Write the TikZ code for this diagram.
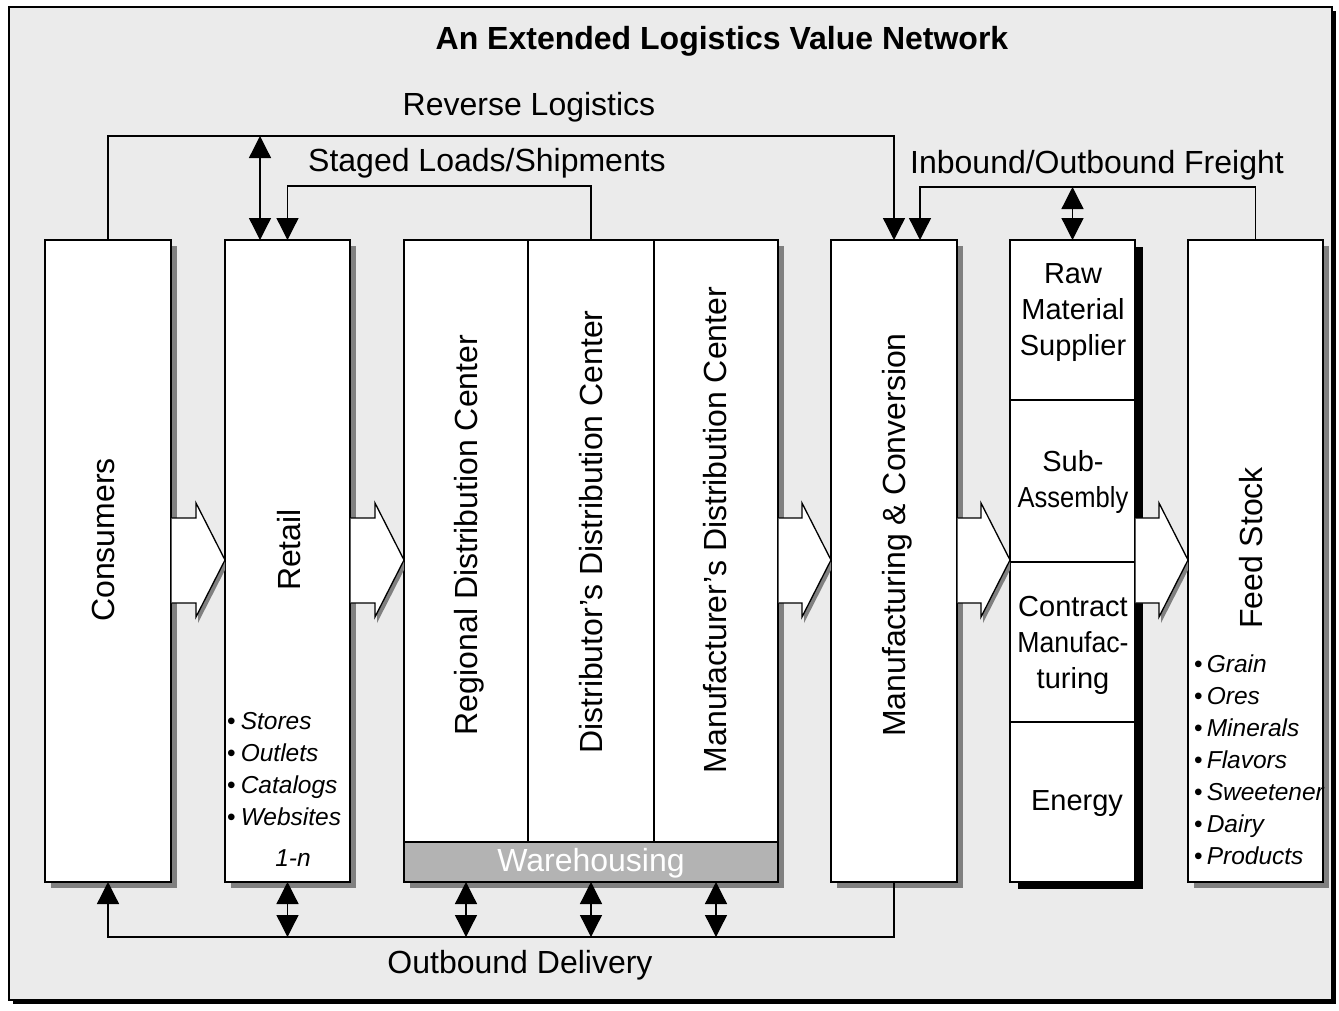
\documentclass[tikz,border=0pt]{standalone}
\usepackage{fontspec}
\setmainfont{Liberation Sans}
\usetikzlibrary{arrows.meta,calc}
\definecolor{bgc}{HTML}{EBEBEB}
\definecolor{shd}{HTML}{808080}
\definecolor{whc}{HTML}{B3B3B3}
\pgfdeclarelayer{framelayer}
\pgfdeclarelayer{shadowlayer}
\pgfsetlayers{framelayer,shadowlayer,main}
\tikzset{
 box/.style={draw, fill=white, line width=1.3pt, inner sep=0pt, outer sep=0pt, anchor=north west},
 lbl/.style={font=\fontsize{32}{36}\selectfont, inner sep=0pt, anchor=base},
 rlbl/.style={lbl, rotate=90},
 cell/.style={font=\fontsize{29}{36}\selectfont, inner sep=0pt, align=center},
 item/.style={font=\fontsize{24.5}{32}\selectfont, inner sep=0pt, anchor=base west},
 conn/.style={line width=1.3pt},
 tri/.style={-{Triangle[width=22pt,length=22pt]}},
 dtri/.style={{Triangle[width=22pt,length=22pt]}-{Triangle[width=22pt,length=22pt]}},
}
\newcommand\boxshadow[3][shd]{%
 \begin{pgfonlayer}{shadowlayer}
 \fill[#1] ($(#2.north west)+#3$) rectangle ($(#2.south east)+#3$);
 \end{pgfonlayer}}
\newcommand\blockarrow[2]{%
 \begin{scope}
  \clip (#1.east |- top0) rectangle (#2.west |- bot0);
  \fill[shd] ($(#2.west |- ah1)+(-27,6)$) -- ($(#2.west |- am)+(2,6)$) -- ($(#2.west |- ah2)+(-27,6)$) -- cycle;
 \end{scope}
 \fill[white] ($(#1.east |- ab1)+(0.7,0)$) -- ($(#2.west |- ab1)+(-29,0)$) -- ($(#2.west |- ah1)+(-29,0)$) -- (#2.west |- am) -- ($(#2.west |- ah2)+(-29,0)$) -- ($(#2.west |- ab2)+(-29,0)$) -- ($(#1.east |- ab2)+(0.7,0)$) -- cycle;
 \draw[conn] ($(#1.east |- ab1)+(0.7,0)$) -- ($(#2.west |- ab1)+(-29,0)$) -- ($(#2.west |- ah1)+(-29,0)$) -- (#2.west |- am) -- ($(#2.west |- ah2)+(-29,0)$) -- ($(#2.west |- ab2)+(-29,0)$) -- ($(#1.east |- ab2)+(0.7,0)$);
}
\begin{document}
\begin{tikzpicture}[x=1pt,y=-1pt]
\useasboundingbox (0,0) rectangle (1339,1010);
% helper levels
\coordinate (top0) at (0,0);
\coordinate (bot0) at (0,1010);
\coordinate (ab1) at (0,518);
\coordinate (ab2) at (0,603);
\coordinate (ah1) at (0,503);
\coordinate (ah2) at (0,617);
\coordinate (am) at (0,560);
\coordinate (revY) at (0,136);
\coordinate (stgY) at (0,186);
\coordinate (inY) at (0,187);
\coordinate (outY) at (0,937);
% frame
\begin{pgfonlayer}{framelayer}
\fill[black] (13,11) rectangle (1336,1004);
\filldraw[fill=bgc, draw=black, line width=1.2pt] (9,7) rectangle (1332,1000);
\end{pgfonlayer}
\node[lbl, font=\fontsize{32}{36}\selectfont\bfseries] (title) at (722,49) {An Extended Logistics Value Network};
% boxes
\node[box, minimum width=126pt, minimum height=642pt] (cons) at (45,240) {};
\node[box, minimum width=125pt, minimum height=642pt] (ret) at (225,240) {};
\node[box, minimum width=374pt, minimum height=642pt] (dc) at (404,240) {};
\node[box, minimum width=124pt, minimum height=602pt] (rdc) at (404,240) {};
\node[box, minimum width=126pt, minimum height=602pt] (ddc) at (528,240) {};
\node[box, minimum width=124pt, minimum height=602pt] (mdc) at (654,240) {};
\node[box, fill=whc, minimum width=374pt, minimum height=40pt] (wh) at (404,842) {};
\node[box, minimum width=126pt, minimum height=642pt] (manuf) at (831,240) {};
\node[box, minimum width=125pt, minimum height=642pt] (raw) at (1010,240) {};
\node[box, minimum width=125pt, minimum height=160pt] (rawA) at (1010,240) {};
\node[box, minimum width=125pt, minimum height=162pt] (rawB) at (1010,400) {};
\node[box, minimum width=125pt, minimum height=160pt] (rawC) at (1010,562) {};
\node[box, minimum width=125pt, minimum height=160pt] (rawD) at (1010,722) {};
\node[box, minimum width=135pt, minimum height=642pt] (feed) at (1188,240) {};
% shadows
\boxshadow{cons}{(6,6)}
\boxshadow{ret}{(6,6)}
\boxshadow{dc}{(6,6)}
\boxshadow{manuf}{(6,6)}
\boxshadow[black]{raw}{(8,7)}
\boxshadow{feed}{(6,6)}
% block arrows
\blockarrow{cons}{ret}
\blockarrow{ret}{dc}
\blockarrow{dc}{manuf}
\blockarrow{manuf}{raw}
\blockarrow{raw}{feed}
% box labels
\node[rlbl] (consT) at (114,540) {Consumers};
\node[rlbl] (retT) at (300,550) {Retail};
\node[rlbl] (rdcT) at (477,535) {Regional Distribution Center};
\node[rlbl] (ddcT) at (602,532) {Distributor’s Distribution Center};
\node[rlbl] (mdcT) at (726,530) {Manufacturer’s Distribution Center};
\node[rlbl] (manT) at (905,535) {Manufacturing \& Conversion};
\node[rlbl] (feedT) at (1262,548) {Feed Stock};
\node[lbl, text=white] (whT) at (591,871) {Warehousing};
\node[cell] (rawAT) at (1073,313) {Raw\\Material\\Supplier};
\node[cell] (rawBT) at (1073,482) {Sub-\\\scalebox{0.88}[1]{Assembly}};
\node[cell] (rawCT) at (1073,645) {Contract\\\scalebox{0.92}[1]{Manufac-}\\turing};
\node[cell, anchor=base] (rawDT) at (1077,810) {Energy};
% lists
\foreach \t [count=\i] in {Stores,Outlets,Catalogs,Websites}
  \node[item] (retL\i) at (227,697+32*\i) {\textbullet\hspace{5pt}\textit{\t}};
\node[item, anchor=base] (retN) at (293,866) {\textit{1-n}};
\foreach \t [count=\i] in {Grain,Ores,Minerals,Flavors,Sweetener,Dairy,Products}
  \node[item] (feedL\i) at (1194,640+32*\i) {\textbullet\hspace{4pt}\textit{\t}};
% connector labels
\node[lbl] (revL) at (529,115) {Reverse Logistics};
\node[lbl] (stgL) at (487,171) {Staged Loads/Shipments};
\node[lbl] (inL) at (1097,173) {Inbound/Outbound Freight};
\node[lbl] (outL) at (520,973) {Outbound Delivery};
% connectors
\draw[conn,tri] (cons.north) -- (cons.north |- revY) -| (manuf.north);
\coordinate (retA) at ($(ret.north west)+(35,0)$);
\draw[conn,dtri] (retA |- revY) -- (retA);
\draw[conn,tri] (ddc.north) -- (ddc.north |- stgY) -| (ret.north);
\coordinate (manB) at ($(manuf.north)+(26,0)$);
\draw[conn,tri] (feed.north) -- (feed.north |- inY) -| (manB);
\draw[conn,dtri] (raw.north |- inY) -- (raw.north);
\draw[conn,tri] (manuf.south) -- (manuf.south |- outY) -| (cons.south);
\draw[conn,dtri] (ret.south) -- (ret.south |- outY);
\draw[conn,dtri] (rdc.south |- dc.south) -- (rdc.south |- outY);
\draw[conn,dtri] (ddc.south |- dc.south) -- (ddc.south |- outY);
\draw[conn,dtri] (mdc.south |- dc.south) -- (mdc.south |- outY);
\end{tikzpicture}
\end{document}
